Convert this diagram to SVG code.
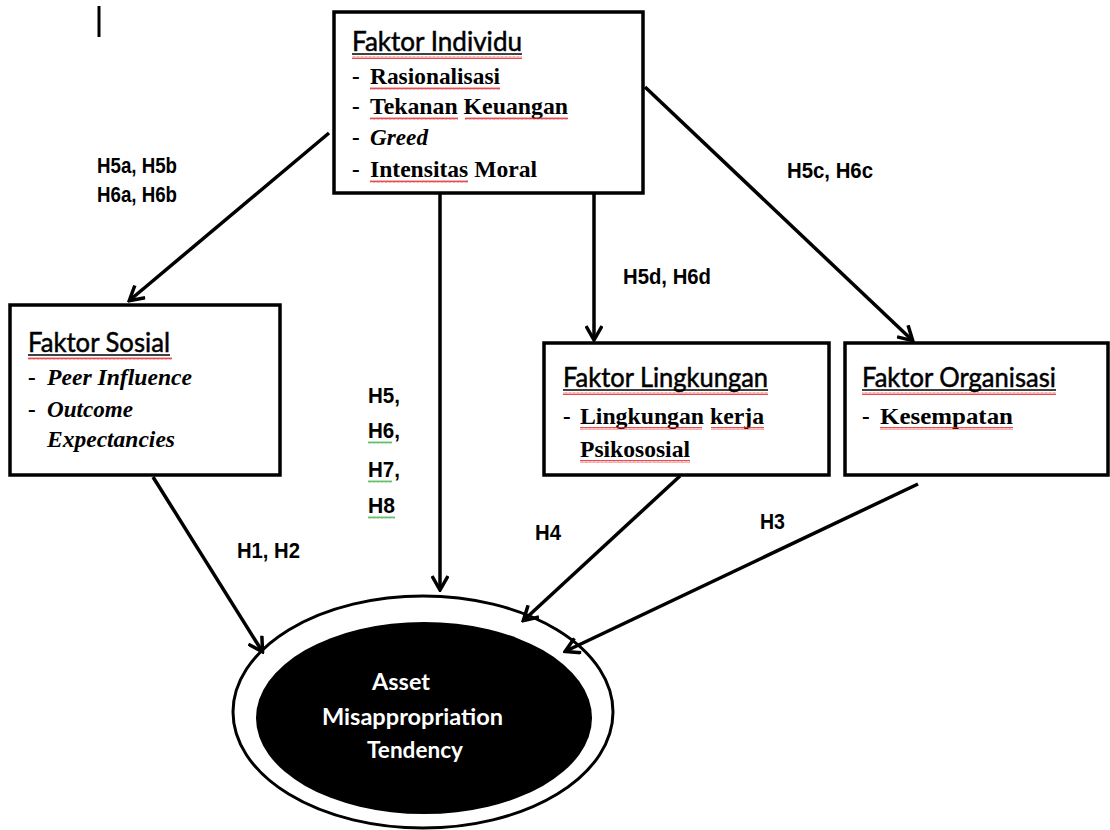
<svg xmlns="http://www.w3.org/2000/svg" width="1110" height="830" viewBox="0 0 1110 830">
<style>
.box{fill:#fff;stroke:#000;stroke-width:3.5}
.title{font-family:Lato,"Open Sans",sans-serif;font-size:27px;fill:#000;stroke:#000;stroke-width:0.5}
.item{font-family:"Liberation Serif","Times New Roman",serif;font-size:23px;font-weight:bold;fill:#000}
.it{font-style:italic}
.lbl{font-family:"Liberation Sans",Arial,sans-serif;font-size:22.5px;font-weight:bold;fill:#000}
.ul{stroke:#000;stroke-width:1.5}
.conn{stroke:#000;stroke-width:3.5;fill:none;marker-end:url(#arr)}
.wr{fill:url(#wavyRed)}
.wg{fill:url(#wavyGreen)}
.ctext{font-family:Lato,"Open Sans",sans-serif;font-size:23px;font-weight:bold;fill:#fff}
</style>
<defs>
<marker id="arr" viewBox="0 0 18 18" refX="15" refY="9" markerWidth="18" markerHeight="18" markerUnits="userSpaceOnUse" orient="auto">
<path d="M2,1 L16,9 L2,17" fill="none" stroke="#000" stroke-width="3.5"/>
</marker>
<pattern id="wavyRed" width="4" height="3" patternUnits="userSpaceOnUse">
<path d="M0,2.5 L1,0.5 L2,2.5 L3,0.5 L4,2.5" fill="none" stroke="#e02020" stroke-width="0.8"/>
</pattern>
<pattern id="wavyGreen" width="4" height="3" patternUnits="userSpaceOnUse">
<path d="M0,2.5 L1,0.5 L2,2.5 L3,0.5 L4,2.5" fill="none" stroke="#3cb043" stroke-width="0.8"/>
</pattern>
</defs>
<rect width="1110" height="830" fill="#fff"/>
<line x1="99" y1="6" x2="99" y2="37" stroke="#000" stroke-width="3"/>

<g id="faktor-individu">
<rect class="box" x="334" y="12" width="309" height="181"/>
<text class="title" x="352" y="51" textLength="170" lengthAdjust="spacingAndGlyphs">Faktor Individu</text>
<line class="ul" x1="352" y1="54" x2="522" y2="54"/>
<rect class="wr" x="352" y="56" width="170" height="3"/>
<text class="item" x="352" y="84">-</text>
<text class="item" x="370" y="84" textLength="130" lengthAdjust="spacingAndGlyphs">Rasionalisasi</text>
<rect class="wr" x="370" y="87" width="130" height="3"/>
<text class="item" x="352" y="114">-</text>
<text class="item" x="370" y="114" textLength="198" lengthAdjust="spacingAndGlyphs">Tekanan Keuangan</text>
<rect class="wr" x="370" y="117" width="88" height="3"/>
<rect class="wr" x="465" y="117" width="103" height="3"/>
<text class="item" x="352" y="145">-</text>
<text class="item it" x="370" y="145" textLength="58" lengthAdjust="spacingAndGlyphs">Greed</text>
<text class="item" x="352" y="177">-</text>
<text class="item" x="370" y="177" textLength="167" lengthAdjust="spacingAndGlyphs">Intensitas Moral</text>
<rect class="wr" x="370" y="180" width="98" height="3"/>
</g>

<g id="faktor-sosial">
<rect class="box" x="10" y="305" width="270" height="170"/>
<text class="title" x="28" y="352" textLength="142" lengthAdjust="spacingAndGlyphs">Faktor Sosial</text>
<line class="ul" x1="28" y1="355" x2="170" y2="355"/>
<rect class="wr" x="28" y="357" width="144" height="3"/>
<text class="item" x="28" y="385">-</text>
<text class="item it" x="47" y="385" textLength="145" lengthAdjust="spacingAndGlyphs">Peer Influence</text>
<text class="item" x="28" y="417">-</text>
<text class="item it" x="47" y="417" textLength="86" lengthAdjust="spacingAndGlyphs">Outcome</text>
<text class="item it" x="47" y="447" textLength="128" lengthAdjust="spacingAndGlyphs">Expectancies</text>
</g>

<g id="faktor-lingkungan">
<rect class="box" x="544" y="343" width="285" height="132"/>
<text class="title" x="563" y="387" textLength="205" lengthAdjust="spacingAndGlyphs">Faktor Lingkungan</text>
<line class="ul" x1="563" y1="390" x2="768" y2="390"/>
<rect class="wr" x="563" y="392" width="205" height="3"/>
<text class="item" x="563" y="424">-</text>
<text class="item" x="580" y="424" textLength="184" lengthAdjust="spacingAndGlyphs">Lingkungan kerja</text>
<rect class="wr" x="580" y="427" width="122" height="3"/>
<rect class="wr" x="711" y="427" width="53" height="3"/>
<text class="item" x="580" y="457" textLength="110" lengthAdjust="spacingAndGlyphs">Psikososial</text>
<rect class="wr" x="580" y="460" width="110" height="3"/>
</g>

<g id="faktor-organisasi">
<rect class="box" x="845" y="343" width="263" height="132"/>
<text class="title" x="862" y="387" textLength="194" lengthAdjust="spacingAndGlyphs">Faktor Organisasi</text>
<line class="ul" x1="862" y1="390" x2="1056" y2="390"/>
<rect class="wr" x="862" y="392" width="194" height="3"/>
<text class="item" x="862" y="424">-</text>
<text class="item" x="880" y="424" textLength="133" lengthAdjust="spacingAndGlyphs">Kesempatan</text>
<rect class="wr" x="880" y="427" width="133" height="3"/>
</g>

<g id="asset-misappropriation">
<ellipse cx="423" cy="712" rx="190" ry="116" fill="#fff" stroke="#000" stroke-width="3"/>
<ellipse cx="424" cy="718" rx="168" ry="96" fill="#000"/>
<text class="ctext" x="372" y="690" textLength="58" lengthAdjust="spacingAndGlyphs">Asset</text>
<text class="ctext" x="322" y="725" textLength="181" lengthAdjust="spacingAndGlyphs">Misappropriation</text>
<text class="ctext" x="367" y="758" textLength="96" lengthAdjust="spacingAndGlyphs">Tendency</text>
</g>

<g id="connectors">
<line class="conn" x1="329" y1="133" x2="130" y2="300"/>
<line class="conn" x1="440" y1="194" x2="440" y2="589"/>
<line class="conn" x1="594" y1="194" x2="594" y2="339"/>
<line class="conn" x1="645" y1="87" x2="912" y2="340"/>
<line class="conn" x1="153" y1="477" x2="262" y2="651"/>
<line class="conn" x1="680" y1="476" x2="524" y2="620"/>
<line class="conn" x1="918" y1="484" x2="566" y2="651"/>
<text class="lbl" x="97" y="173" textLength="80" lengthAdjust="spacingAndGlyphs">H5a, H5b</text>
<text class="lbl" x="97" y="202" textLength="80" lengthAdjust="spacingAndGlyphs">H6a, H6b</text>
<text class="lbl" x="787" y="178" textLength="86" lengthAdjust="spacingAndGlyphs">H5c, H6c</text>
<text class="lbl" x="623" y="284" textLength="88" lengthAdjust="spacingAndGlyphs">H5d, H6d</text>
<text class="lbl" x="368" y="403" textLength="32" lengthAdjust="spacingAndGlyphs">H5,</text>
<text class="lbl" x="368" y="438" textLength="32" lengthAdjust="spacingAndGlyphs">H6,</text>
<text class="lbl" x="368" y="477" textLength="32" lengthAdjust="spacingAndGlyphs">H7,</text>
<text class="lbl" x="368" y="513" textLength="27" lengthAdjust="spacingAndGlyphs">H8</text>
<rect class="wg" x="368" y="441" width="24" height="3"/>
<rect class="wg" x="368" y="480" width="24" height="3"/>
<rect class="wg" x="368" y="516" width="27" height="3"/>
<text class="lbl" x="237" y="558" textLength="63" lengthAdjust="spacingAndGlyphs">H1, H2</text>
<text class="lbl" x="535" y="540" textLength="26" lengthAdjust="spacingAndGlyphs">H4</text>
<text class="lbl" x="760" y="529" textLength="25" lengthAdjust="spacingAndGlyphs">H3</text>
</g>
</svg>
